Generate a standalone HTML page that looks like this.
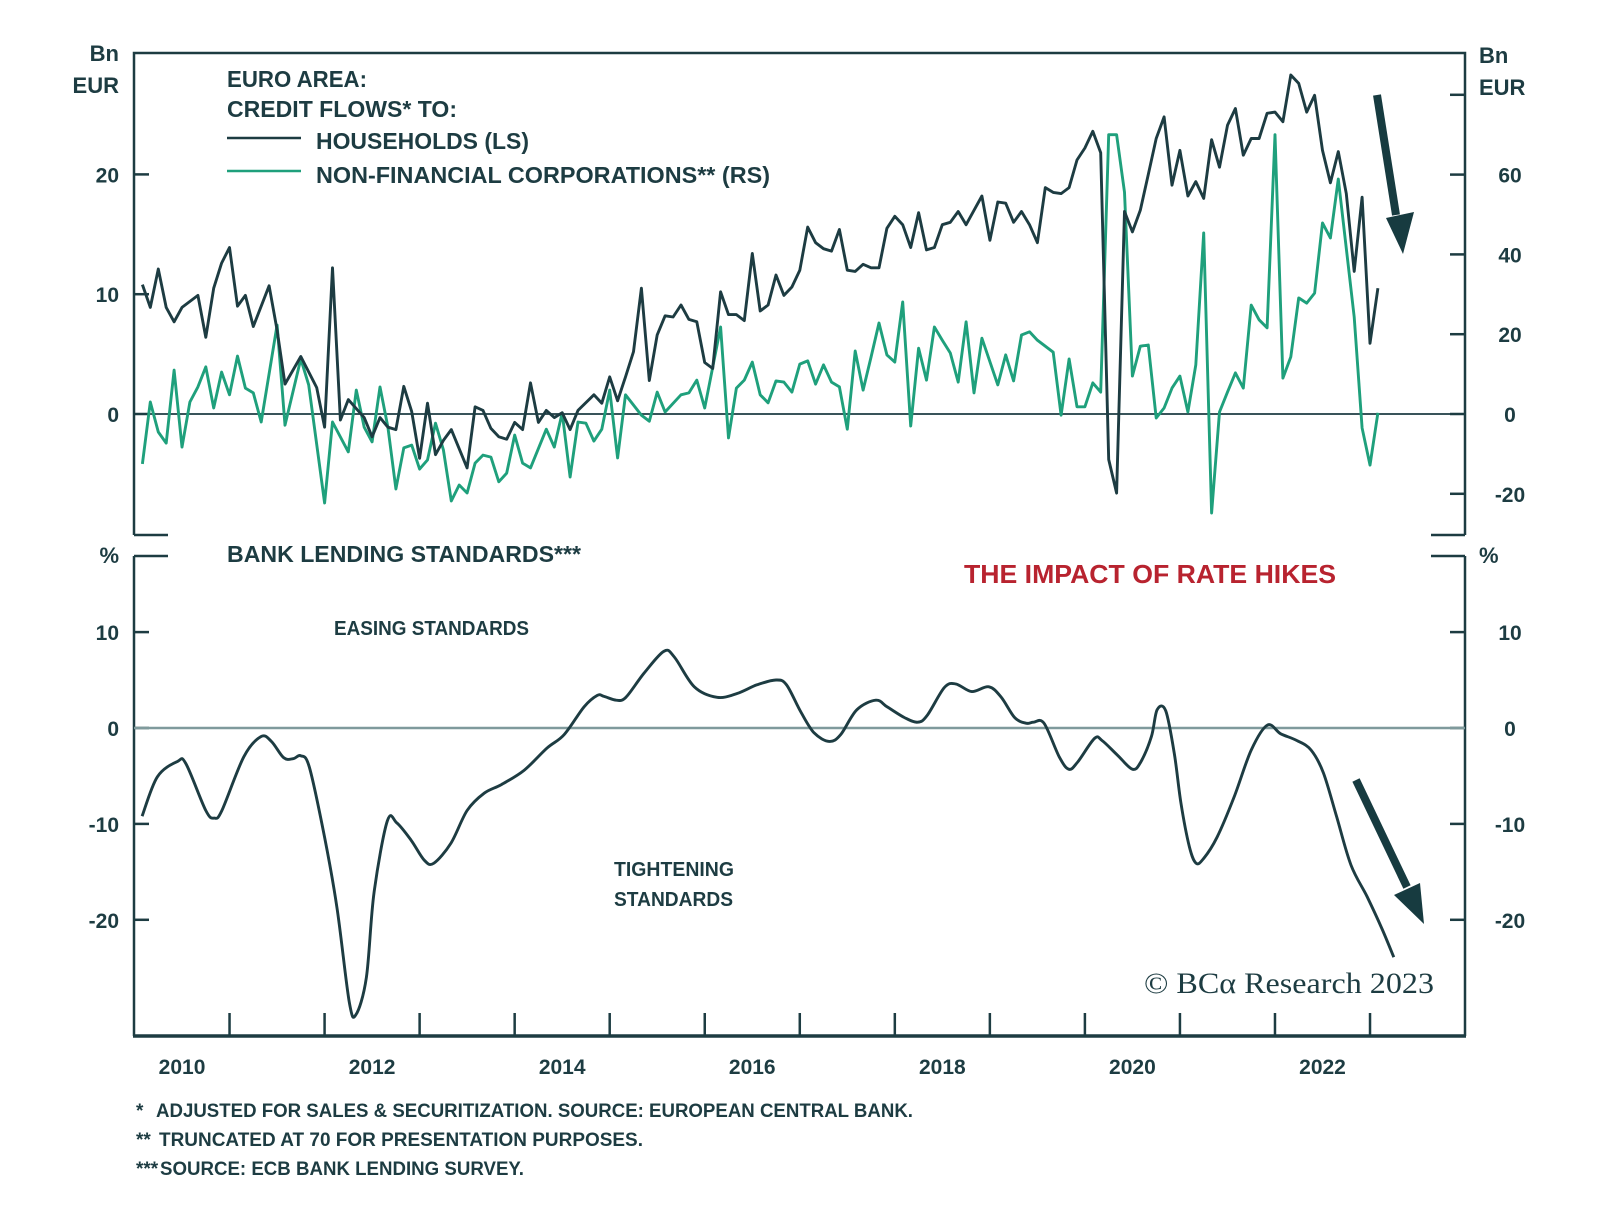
<!DOCTYPE html>
<html><head><meta charset="utf-8"><style>
html,body{margin:0;padding:0;background:#fff;}
svg{display:block;font-family:"Liberation Sans",sans-serif;}
</style></head><body>
<svg id="chart" width="1600" height="1218" viewBox="0 0 1600 1218" xmlns="http://www.w3.org/2000/svg">
<rect x="0" y="0" width="1600" height="1218" fill="#fff"/>
<g id="frame" stroke="#1d3c42" stroke-width="2.5" fill="none">
<path d="M134,535 L134,53 L1465,53 L1465,535"/>
<path d="M134,535 L168,535 M1431,535 L1465,535"/>
<path d="M134,556 L168,556 M1431,556 L1465,556"/>
<path d="M134,556 L134,1036 M1465,556 L1465,1036"/>
<path d="M133,1036 L1466,1036" stroke-width="3.5"/>
</g>
<g id="ticks" stroke="#1d3c42" stroke-width="2.5"></g>
<g id="labels" fill="#1d3c42" font-weight="bold"></g>
<line x1="134" y1="414" x2="1465" y2="414" stroke="#1d3c42" stroke-width="1.8"/>
<line x1="134" y1="728" x2="1465" y2="728" stroke="#7f9a9c" stroke-width="2.5"/>
<g id="series"></g>
<g fill="#1d3c42" font-size="23" font-weight="bold">
<text x="227" y="87" textLength="140" lengthAdjust="spacingAndGlyphs">EURO AREA:</text>
<text x="227" y="117" textLength="230" lengthAdjust="spacingAndGlyphs">CREDIT FLOWS* TO:</text>
<line x1="227" y1="138" x2="301" y2="138" stroke="#1d3c42" stroke-width="2.5"/>
<text x="316" y="149" textLength="213" lengthAdjust="spacingAndGlyphs">HOUSEHOLDS (LS)</text>
<line x1="227" y1="171" x2="301" y2="171" stroke="#1fa07c" stroke-width="2.5"/>
<text x="316" y="183" textLength="454" lengthAdjust="spacingAndGlyphs">NON-FINANCIAL CORPORATIONS** (RS)</text>
</g>
<text x="227" y="562" font-size="23" font-weight="bold" fill="#1d3c42" textLength="354" lengthAdjust="spacingAndGlyphs">BANK LENDING STANDARDS***</text>
<text x="964" y="583" font-size="26" font-weight="bold" fill="#b8232f" textLength="372" lengthAdjust="spacingAndGlyphs">THE IMPACT OF RATE HIKES</text>
<text x="334" y="635" font-size="20" font-weight="bold" fill="#1d3c42" textLength="195" lengthAdjust="spacingAndGlyphs">EASING STANDARDS</text>
<text x="614" y="876" font-size="20" font-weight="bold" fill="#1d3c42" textLength="120" lengthAdjust="spacingAndGlyphs">TIGHTENING</text>
<text x="614" y="906" font-size="20" font-weight="bold" fill="#1d3c42" textLength="119" lengthAdjust="spacingAndGlyphs">STANDARDS</text>
<text x="1144" y="993" font-size="30" font-family="Liberation Serif, serif" fill="#1d3c42" textLength="290" lengthAdjust="spacingAndGlyphs">© BCα Research 2023</text>
<g fill="#1d3c42" font-size="19" font-weight="bold">
<text x="136" y="1117">*</text><text x="156" y="1117" textLength="757" lengthAdjust="spacingAndGlyphs">ADJUSTED FOR SALES &amp; SECURITIZATION. SOURCE: EUROPEAN CENTRAL BANK.</text>
<text x="136" y="1146">**</text><text x="159" y="1146" textLength="484" lengthAdjust="spacingAndGlyphs">TRUNCATED AT 70 FOR PRESENTATION PURPOSES.</text>
<text x="136" y="1175">***</text><text x="160" y="1175" textLength="364" lengthAdjust="spacingAndGlyphs">SOURCE: ECB BANK LENDING SURVEY.</text>
</g>
<g fill="#173b40">
<line x1="1377" y1="95" x2="1396" y2="215" stroke="#173b40" stroke-width="8"/>
<polygon points="1386,218 1414,212 1403,254"/>
</g>
<g fill="#173b40">
<line x1="1356" y1="780" x2="1407" y2="887" stroke="#173b40" stroke-width="8"/>
<polygon points="1394,895 1420,883 1424,924"/>
</g>
</svg>
<script>
const hhMonths=[1,2,3,4,5,6,8,9,10,11,12,13,14,15,17,18,19,21,23,24,25,26,27,29,30,31,32,33,34,35,36,37,38,39,40,42,43,44,45,46,47,48,49,50,51,52,53,54,55,56,58,59,60,61,62,63,64,65,66,67,68,69,70,71,72,73,74,75,76,77,78,79,80,81,82,83,84,85,86,87,88,89,90,91,92,93,94,95,96,97,98,99,100,101,102,103,104,105,106,107,108,109,110,111,112,113,114,115,116,117,118,119,120,121,122,123,124,125,126,127,128,129,130,131,132,133,134,135,136,137,138,139,140,141,142,143,144,145,146,147,148,149,150,151,152,153,154,155,156,157];
const hhValues=[10.8,8.9,12.1,8.9,7.7,8.9,9.9,6.4,10.5,12.6,13.9,9.0,9.9,7.3,10.7,7.0,2.5,4.8,2.2,-1.1,12.2,-0.5,1.2,-0.3,-1.9,-0.3,-1.1,-1.3,2.3,0.2,-3.7,0.9,-3.4,-2.2,-1.3,-4.5,0.6,0.3,-1.2,-1.9,-2.1,-0.7,-1.3,2.6,-0.7,0.3,-0.3,0.1,-1.3,0.3,1.6,0.9,3.1,1.1,3.1,5.2,10.5,2.8,6.6,8.2,8.1,9.1,7.9,7.7,4.3,3.8,10.2,8.3,8.3,7.8,13.4,8.6,9.1,11.6,9.9,10.6,12.0,15.6,14.3,13.8,13.6,15.4,12.0,11.9,12.5,12.2,12.2,15.5,16.5,15.8,13.9,16.8,13.7,13.9,15.8,16.0,16.9,15.8,17.0,18.2,14.5,17.7,17.6,16.0,16.9,15.8,14.3,18.9,18.5,18.4,18.9,21.2,22.2,23.6,21.8,-3.8,-6.6,16.9,15.2,17.0,20.0,23.0,24.8,19.1,22.0,18.2,19.4,18.0,22.9,20.6,24.1,25.5,21.6,23.0,23.0,25.1,25.2,24.4,28.3,27.6,25.2,26.6,22.0,19.3,21.9,18.4,11.9,18.1,5.9,10.5];
const nfcMonths=[1,2,3,4,5,6,7,8,9,10,11,12,13,14,15,16,18,19,21,22,24,25,27,28,29,30,31,32,33,34,35,36,37,38,39,40,41,42,43,44,45,46,47,48,49,50,52,53,54,55,56,57,58,59,60,61,62,64,65,66,67,69,70,71,72,74,75,76,77,78,79,80,81,82,83,84,85,86,87,88,89,90,91,92,93,94,95,96,97,98,99,100,101,102,103,104,105,106,107,109,110,111,112,113,114,116,117,118,119,120,121,122,123,124,125,126,127,128,129,130,131,132,133,134,135,136,137,138,139,140,141,142,143,144,145,146,147,148,149,150,151,152,154,155,156,157];
const nfcValues=[-12.5,3.0,-4.5,-7.3,11.0,-8.3,3.0,6.8,11.8,1.5,10.5,4.8,14.5,6.5,5.3,-2.0,22.3,-2.8,13.8,7.3,-22.3,-2.0,-9.5,6.0,-3.3,-7.0,6.8,-3.3,-18.8,-8.5,-7.8,-13.8,-11.5,-2.3,-9.0,-21.8,-17.8,-19.8,-12.3,-10.3,-10.8,-17.0,-14.8,-5.3,-12.3,-13.5,-3.8,-8.3,0.3,-15.8,-2.0,-2.3,-6.8,-3.8,6.0,-11.0,4.8,-0.3,-1.8,5.5,0.5,4.8,5.3,8.5,1.5,21.8,-6.0,6.5,8.5,13.0,4.8,2.8,8.3,8.0,5.5,12.5,13.3,7.5,12.3,8.0,6.8,-3.8,15.8,6.0,14.3,22.8,14.8,13.0,28.1,-3.0,16.5,8.5,21.8,18.5,15.3,8.0,23.1,5.3,19.0,7.3,14.8,8.3,19.8,20.6,18.5,15.5,-0.3,13.8,1.8,1.8,7.8,5.5,70,70,55.6,9.5,17.0,17.3,-1.0,1.5,6.5,9.5,0.5,12.3,45.4,-24.8,0.5,5.5,10.3,6.5,27.3,23.6,21.6,70,9.0,14.3,29.1,27.8,30.3,47.9,44.1,58.9,24.3,-3.5,-12.8,0.3];
const blsDates=[2010.08,2010.24,2010.45,2010.54,2010.75,2010.84,2010.92,2011.15,2011.33,2011.44,2011.57,2011.67,2011.75,2011.84,2012.00,2012.13,2012.26,2012.33,2012.44,2012.52,2012.66,2012.76,2012.91,2013.05,2013.15,2013.33,2013.50,2013.68,2013.86,2014.10,2014.34,2014.52,2014.73,2014.87,2014.94,2015.07,2015.17,2015.36,2015.57,2015.68,2015.89,2016.13,2016.34,2016.55,2016.75,2016.86,2017.01,2017.15,2017.31,2017.43,2017.60,2017.80,2017.92,2018.10,2018.24,2018.34,2018.52,2018.64,2018.81,2018.99,2019.12,2019.26,2019.38,2019.46,2019.57,2019.73,2019.83,2019.92,2020.10,2020.18,2020.34,2020.50,2020.59,2020.70,2020.76,2020.85,2020.94,2021.01,2021.10,2021.17,2021.25,2021.39,2021.57,2021.75,2021.92,2022.06,2022.23,2022.38,2022.51,2022.65,2022.80,2022.97,2023.12,2023.25];
const blsValues=[-9.2,-5.1,-3.5,-3.7,-8.6,-9.4,-8.6,-3.0,-0.9,-1.4,-3.1,-3.2,-2.9,-4.1,-11.4,-18.7,-28.6,-29.9,-26.0,-17.2,-9.7,-9.9,-11.7,-13.8,-14.1,-12.0,-8.6,-6.8,-5.9,-4.4,-2.1,-0.7,2.2,3.4,3.3,2.9,3.2,5.7,8.0,7.4,4.3,3.2,3.6,4.5,5.0,4.5,1.7,-0.5,-1.4,-0.7,1.9,2.9,2.2,1.1,0.6,1.3,4.2,4.6,3.8,4.3,3.2,1.1,0.5,0.6,0.5,-3.0,-4.3,-3.6,-1.1,-1.3,-2.8,-4.3,-3.5,-0.9,1.9,1.8,-2.6,-7.8,-12.4,-14.1,-13.6,-11.4,-7.2,-2.3,0.3,-0.6,-1.3,-2.3,-4.7,-9.3,-14.3,-17.6,-20.8,-23.9];
const yearLabels=["2010","2012","2014","2016","2018","2020","2022"];
const leftTopTicks=[0,10,20];
const rightTopTicks=[-20,0,20,40,60,80];
const rightTopLabels=["-20","0","20","40","60"];
const bottomTicks=[10,0,-10,-20];

const NS="http://www.w3.org/2000/svg";
const xYear=t=>134.5+(t-2010)*95.04;
const xMonth=m=>xYear(2010+m/12);
const yLeft=v=>414-v*11.98;
const yRight=v=>414-v*3.99;
const yBls=v=>728-v*9.59;
function mk(tag,attrs,parent){const e=document.createElementNS(NS,tag);for(const k in attrs)e.setAttribute(k,attrs[k]);parent.appendChild(e);return e;}
const ticks=document.getElementById('ticks'),labels=document.getElementById('labels'),series=document.getElementById('series');
leftTopTicks.forEach(v=>{const l=mk('line',{x1:134,x2:149,y1:yLeft(v),y2:yLeft(v)},ticks);


const t=mk('text',{x:119,y:yLeft(v)+8,'text-anchor':'end','font-size':21},labels);t.textContent=String(v);

});
rightTopTicks.forEach(v=>{const l=mk('line',{x1:1450,x2:1465,y1:yRight(v),y2:yRight(v)},ticks);

});
rightTopLabels.forEach(s=>{const v=+s;const t=mk('text',{x:1510,y:yRight(v)+8,'text-anchor':'middle','font-size':21},labels);t.textContent=s;

});
bottomTicks.forEach(v=>{const y=yBls(v);
const a=mk('line',{x1:134,x2:149,y1:y,y2:y},ticks);


const b=mk('line',{x1:1450,x2:1465,y1:y,y2:y},ticks);


const t1=mk('text',{x:119,y:y+8,'text-anchor':'end','font-size':21},labels);t1.textContent=String(v);


const t2=mk('text',{x:1510,y:y+8,'text-anchor':'middle','font-size':21},labels);t2.textContent=String(v);

});
for(let yr=2011;yr<=2023;yr++){const l=mk('line',{x1:xYear(yr),x2:xYear(yr),y1:1013,y2:1036},ticks);

}
yearLabels.forEach(s=>{const t=mk('text',{x:xYear(+s+0.5),y:1074,'text-anchor':'middle','font-size':21},labels);t.textContent=s;

});
[[119,61,'Bn','end'],[119,93,'EUR','end'],[1479,63,'Bn','start'],[1479,95,'EUR','start'],[119,563,'%','end'],[1479,563,'%','start']].forEach(a=>{
const t=mk('text',{x:a[0],y:a[1],'text-anchor':a[3],'font-size':22},labels);t.textContent=a[2];

});

const nfcPts=nfcMonths.map((m,i)=>[xMonth(m),yRight(nfcValues[i])]);
const nfc=mk('path',{d:'M'+nfcPts.map(p=>p[0].toFixed(1)+','+p[1].toFixed(1)).join(' L'),fill:'none',stroke:'#1fa07c','stroke-width':2.9,'stroke-linejoin':'round'},series);


const hhPts=hhMonths.map((m,i)=>[xMonth(m),yLeft(hhValues[i])]);
const hh=mk('path',{d:'M'+hhPts.map(p=>p[0].toFixed(1)+','+p[1].toFixed(1)).join(' L'),fill:'none',stroke:'#1d3c42','stroke-width':2.9,'stroke-linejoin':'round'},series);


const bp=blsDates.map((t,i)=>[xYear(t),yBls(blsValues[i])]);
let d='M'+bp[0][0].toFixed(1)+','+bp[0][1].toFixed(1);
for(let i=0;i<bp.length-1;i++){const p0=bp[Math.max(0,i-1)],p1=bp[i],p2=bp[i+1],p3=bp[Math.min(bp.length-1,i+2)];
const c1=[p1[0]+(p2[0]-p0[0])/6,p1[1]+(p2[1]-p0[1])/6],c2=[p2[0]-(p3[0]-p1[0])/6,p2[1]-(p3[1]-p1[1])/6];
d+=' C'+c1.map(v=>v.toFixed(1)).join(',')+' '+c2.map(v=>v.toFixed(1)).join(',')+' '+p2.map(v=>v.toFixed(1)).join(',');}
const bls=mk('path',{d:d,fill:'none',stroke:'#1d3c42','stroke-width':2.9},series);


</script>
</body></html>
